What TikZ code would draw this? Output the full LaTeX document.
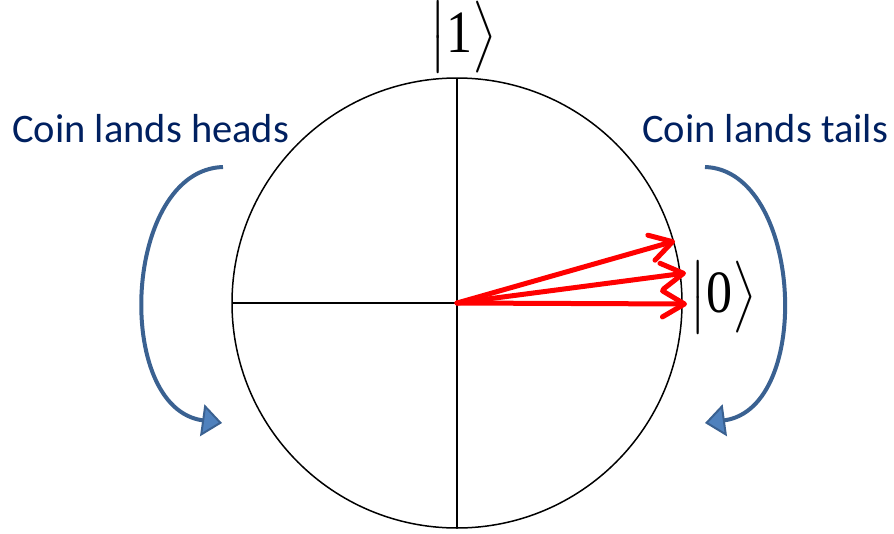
\documentclass[tikz,border=0pt]{standalone}
\usepackage{fontspec}
\setmainfont{Liberation Serif}
\newfontfamily\calib{Carlito}
\usetikzlibrary{arrows.meta}
\definecolor{txtblue}{HTML}{002060}
\definecolor{arcblue}{HTML}{3A6191}
\definecolor{tipblue}{HTML}{4F81BD}
\tikzset{
  axis/.style={line width=1.3pt, black},
  vec/.style={line width=5pt, red, line cap=round, line join=round,
    -{Straight Barb[length=22pt,width=26pt,line cap=round,line join=round]}},
  flip/.style={line width=4pt, arcblue,
    -{Triangle[length=20pt,width=32pt,fill=tipblue,line width=2pt,line join=miter]}},
  captext/.style={font=\calib\fontsize{40.5}{44}\selectfont, text=txtblue, inner sep=0pt},
  ket/.style={inner sep=0pt},
}
\newcommand{\myket}[1]{\scalebox{5.2}[6]{$\big|\mbox{#1}\big\rangle$}}
\begin{document}
\begin{tikzpicture}[x=1pt,y=-1pt]
\useasboundingbox (0,0) rectangle (894,533);
\coordinate (O) at (457,303);
\draw[line width=1.5pt] (O) circle[radius=225];
\coordinate (T) at (457,78);
\coordinate (B) at (457,528);
\coordinate (L) at (232,303);
\coordinate (R) at (682,303);
\draw[axis] (T) -- (B);
\draw[axis] (L) -- (R);
\coordinate (v1) at (675,241);
\coordinate (v2) at (686,273);
\coordinate (v3) at (687,304);
\draw[vec] (O) -- (v1);
\draw[vec] (O) -- (v2);
\draw[vec] (O) -- (v3);
\node[ket] (k1) at (463,37) {\myket{1}};
\node[ket] (k0) at (723,297) {\myket{0}};
\node[captext, anchor=base west] (heads) at (12,142) {Coin lands heads};
\node[captext, anchor=base west] (tails) at (642,142) {Coin lands tails};
\coordinate (h1) at (223,167);
\coordinate (h2) at (222,423);
\coordinate (t1) at (705,167);
\coordinate (t2) at (705,423);
\draw[flip] (h1) .. controls (123,170) and (113,408) .. (h2);
\draw[flip] (t1) .. controls (802,170) and (814,408) .. (t2);
\end{tikzpicture}
\end{document}
